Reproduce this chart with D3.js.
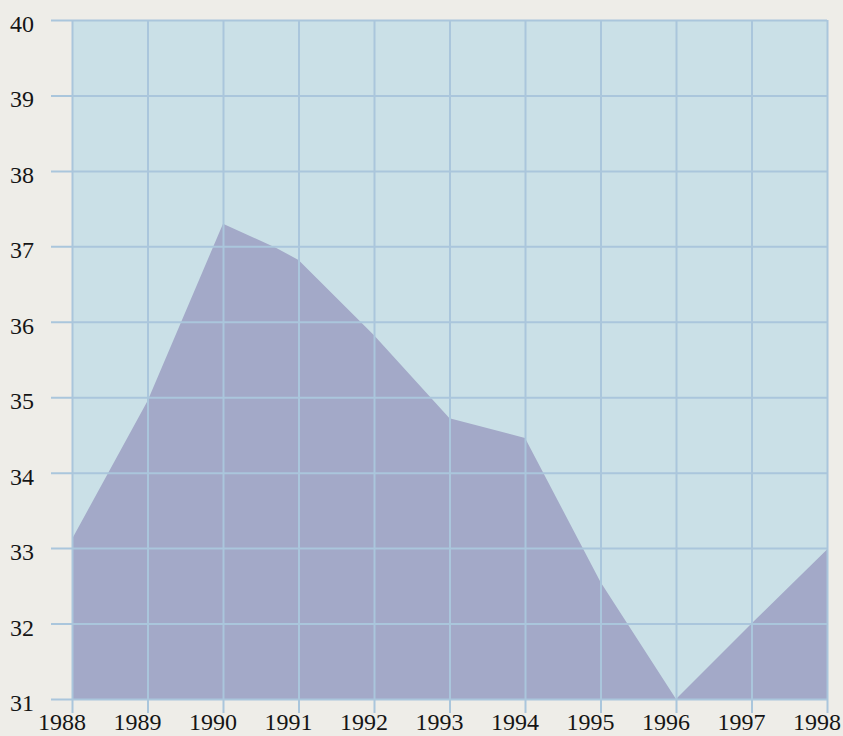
<!DOCTYPE html>
<html>
<head>
<meta charset="utf-8">
<script src="https://cdn.jsdelivr.net/npm/d3@7/dist/d3.min.js"></script>
<style>
  html, body { margin: 0; padding: 0; background: #eeede8; }
  svg { display: block; }
  text { font-family: "Liberation Serif", "DejaVu Serif", serif; fill: #151515; }
</style>
</head>
<body>
<svg id="chart" width="843" height="736"></svg>
<script>
const years = [1988, 1989, 1990, 1990.7, 1991, 1992, 1993, 1994, 1995, 1996, 1997, 1998];
const values = [33.12, 34.95, 37.3, 36.98, 36.82, 35.82, 34.72, 34.46, 32.55, 31.0, 32.0, 32.98];
const xTicks = [1988, 1989, 1990, 1991, 1992, 1993, 1994, 1995, 1996, 1997, 1998];
const yTicks = [31, 32, 33, 34, 35, 36, 37, 38, 39, 40];

(function () {
const svg = d3.select("#chart");
const pL = 72, pR = 827, pT = 20, pB = 699;

const x = d3.scaleLinear().domain([1988, 1998]).range([pL, pR]);
const y = d3.scaleLinear().domain([31, 40]).range([pB, pT]);

// plot background
svg.append("rect")
  .attr("x", pL).attr("y", pT)
  .attr("width", pR - pL).attr("height", pB - pT)
  .attr("fill", "#cae0e7");

// area
const area = d3.area()
  .x((d, i) => x(years[i]))
  .y0(y(31))
  .y1(d => y(d));
svg.append("path")
  .datum(values)
  .attr("d", area)
  .attr("fill", "#a3a9c8");

const gridColor = "#aac6dc";

// horizontal grid + left ticks
const yAxis = d3.axisLeft(y)
  .tickValues(yTicks)
  .tickSize(0)
  .tickFormat("");
const gy = svg.append("g").attr("transform", `translate(${pL},0)`).call(yAxis);
gy.select(".domain").remove();
gy.selectAll(".tick line")
  .attr("x1", -21)
  .attr("x2", pR - pL)
  .attr("stroke", gridColor).attr("stroke-width", 2);

// vertical grid + bottom ticks
const xAxis = d3.axisBottom(x)
  .tickValues(xTicks)
  .tickSize(0)
  .tickFormat("");
const gx = svg.append("g").attr("transform", `translate(0,${pB})`).call(xAxis);
gx.select(".domain").remove();
gx.selectAll(".tick line")
  .attr("y1", pT - pB)
  .attr("y2", 14)
  .attr("stroke", gridColor).attr("stroke-width", 2);

// y labels
svg.append("g").selectAll("text")
  .data(yTicks)
  .join("text")
  .attr("x", 34)
  .attr("y", d => y(d) + 12)
  .attr("text-anchor", "end")
  .attr("font-size", 24)
  .text(d => d);

// x labels
svg.append("g").selectAll("text")
  .data(xTicks)
  .join("text")
  .attr("x", d => x(d) - 10)
  .attr("y", 730)
  .attr("text-anchor", "middle")
  .attr("font-size", 24)
  .text(d => d);
})();
</script>
</body>
</html>
